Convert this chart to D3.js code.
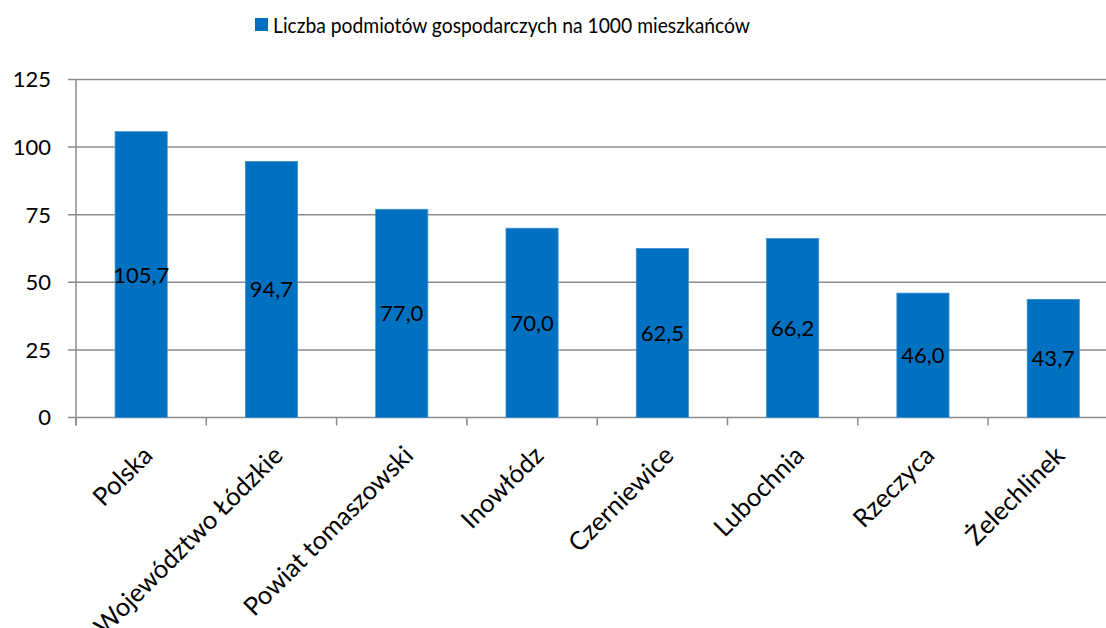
<!DOCTYPE html>
<html><head><meta charset="utf-8">
<script src="https://cdn.jsdelivr.net/npm/d3@7/dist/d3.min.js"></script>
<style>
html,body{margin:0;padding:0;background:#fff;}
svg{display:block;font-family:Lato,"Open Sans",sans-serif;}
</style></head>
<body>
<svg id="chart" width="1106" height="628"></svg>
<script>
const categories = ["Polska","Województwo Łódzkie","Powiat tomaszowski","Inowłódz","Czerniewice","Lubochnia","Rzeczyca","Żelechlinek"];
const values = [105.7, 94.7, 77.0, 70.0, 62.5, 66.2, 46.0, 43.7];
const yTicks = [0, 25, 50, 75, 100, 125];
const seriesName = "Liczba podmiotów gospodarczych na 1000 mieszkańców";

const svg = d3.select("#chart");
const blue = "#0070C0", grid = "#8c8c8c";

const x = d3.scaleBand().domain(categories).range([76, 76 + 8*130.3]).paddingInner(0.6).paddingOuter(0.3);
const y = d3.scaleLinear().domain([0,125]).range([417.5, 79.5]);
const locale = d3.formatLocale({decimal:",", thousands:" ", grouping:[3], currency:["",""]});
const fmt = locale.format(".1f");

// gridlines
svg.append("g").selectAll("line").data(yTicks).join("line")
  .attr("x1", 68).attr("x2", 1106)
  .attr("y1", d => y(d)).attr("y2", d => y(d))
  .attr("stroke", grid).attr("stroke-width", 1.5);

// y axis line
svg.append("line").attr("x1",76).attr("x2",76).attr("y1",y(125)).attr("y2",425.5)
  .attr("stroke", grid).attr("stroke-width",1.5);

// category boundary ticks
const step = x.step();
svg.append("g").selectAll("line").data(d3.range(categories.length+1)).join("line")
  .attr("x1", i => 76 + i*step).attr("x2", i => 76 + i*step)
  .attr("y1", y(0)).attr("y2", 425.5)
  .attr("stroke", grid).attr("stroke-width",1.5);

// y tick labels
svg.append("g").selectAll("text").data(yTicks).join("text")
  .attr("x", 51).attr("y", d => y(d)).attr("dy","0.36em")
  .attr("text-anchor","end").attr("font-size", 22).attr("fill","#000")
  .text(d => d);

// bars
svg.append("g").selectAll("rect").data(values).join("rect")
  .attr("x", (d,i) => x(categories[i])).attr("width", x.bandwidth())
  .attr("y", d => y(d)).attr("height", d => y(0) - y(d))
  .attr("fill", blue).attr("stroke","#3d8fd0").attr("stroke-width",0.8);

// data labels
svg.append("g").selectAll("text").data(values).join("text")
  .attr("x", (d,i) => x(categories[i]) + x.bandwidth()/2)
  .attr("y", d => (y(d) + y(0))/2).attr("dy","0.36em")
  .attr("text-anchor","middle").attr("font-size", 22).attr("fill","#000")
  .text(d => fmt(d));

// category labels
svg.append("g").selectAll("text").data(categories).join("text")
  .attr("transform", d => `translate(${x(d) + x.bandwidth()/2 + 13},${457}) rotate(-45)`)
  .attr("text-anchor","end").attr("font-size", 25.5).attr("fill","#000")
  .text(d => d);

// legend
const lg = svg.append("g");
lg.append("rect").attr("x",255).attr("y",18).attr("width",13).attr("height",13).attr("fill",blue);
lg.append("text").attr("x",273).attr("y",33).attr("font-size",21).attr("fill","#000")
  .attr("textLength", 477).attr("lengthAdjust","spacingAndGlyphs").text(seriesName);
</script>
</body></html>
